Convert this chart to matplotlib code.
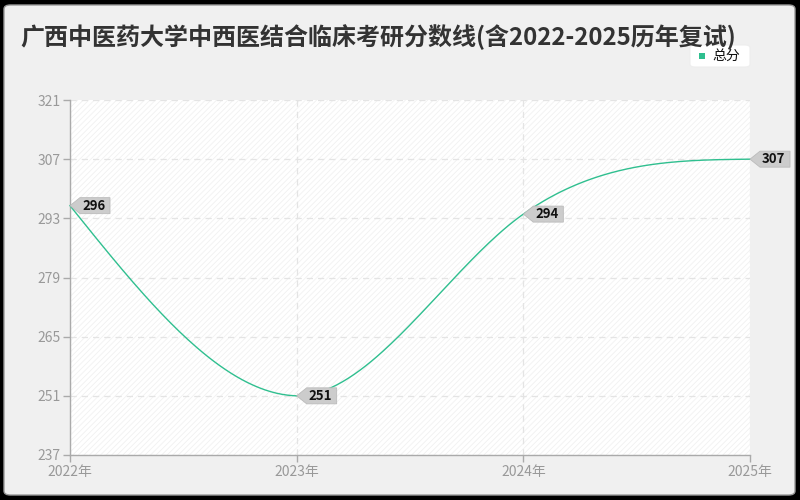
import numpy as np
import matplotlib
matplotlib.use("Agg")
import matplotlib.pyplot as plt
from matplotlib.patches import FancyBboxPatch, Polygon, Rectangle

plt.rcParams["font.family"] = ["Noto Sans CJK SC", "DejaVu Sans"]
plt.rcParams["hatch.linewidth"] = 0.6

title = "广西中医药大学中西医结合临床考研分数线(含2022-2025历年复试)"
years = [2022, 2023, 2024, 2025]
year_labels = ["2022年", "2023年", "2024年", "2025年"]
scores = [296, 251, 294, 307]
y_ticks = [237, 251, 265, 279, 293, 307, 321]
series_name = "总分"
line_color = "#2fbf8f"


def smooth_curve(x, y, tension=1.35, n=80):
    # cubic bezier through the points; control points are kept between
    # each pair of neighbours so the curve never overshoots
    x = np.asarray(x, float)
    y = np.asarray(y, float)
    h = np.diff(x)
    d = np.diff(y) / h
    m = np.zeros_like(y)
    m[1:-1] = tension * (y[2:] - y[:-2]) / (x[2:] - x[:-2])
    for i, j, k in ((0, 0, 1), (-1, -1, -2)):
        s = (3 * d[j] - m[k]) / 2
        m[i] = s if np.sign(s) == np.sign(d[j]) else 0.0
    xs, ys = [x[:1]], [y[:1]]
    t = np.linspace(0, 1, n)[1:]
    for i in range(len(x) - 1):
        lo, hi = sorted((y[i], y[i + 1]))
        c1 = np.clip(y[i] + m[i] * h[i] / 3, lo, hi)
        c2 = np.clip(y[i + 1] - m[i + 1] * h[i] / 3, lo, hi)
        b = [(1 - t) ** 3, 3 * (1 - t) ** 2 * t, 3 * (1 - t) * t ** 2, t ** 3]
        xs.append(b[0] * x[i] + b[1] * (x[i] + h[i] / 3)
                  + b[2] * (x[i + 1] - h[i] / 3) + b[3] * x[i + 1])
        ys.append(b[0] * y[i] + b[1] * c1 + b[2] * c2 + b[3] * y[i + 1])
    return np.concatenate(xs), np.concatenate(ys)


fig = plt.figure(figsize=(8, 5), dpi=100, facecolor="black")
W, H = 800, 500
panel = FancyBboxPatch((4 / W, 5 / H), 791 / W, 490 / H,
                       boxstyle="round,pad=0,rounding_size=0.008",
                       transform=fig.transFigure, facecolor="#f0f0f0",
                       edgecolor="#9a9a9a", linewidth=1.0, zorder=-10)
fig.patches.append(panel)

ax = fig.add_axes([70 / W, 45 / H, 680 / W, 355 / H])
ax.set_zorder(1)
ax.set_facecolor("white")
ax.add_patch(Rectangle((0, 0), 1, 1, transform=ax.transAxes, facecolor="white",
                       edgecolor="#f1f1f1", hatch="//////", linewidth=0, zorder=0))

ax.set_xlim(years[0], years[-1])
ax.set_ylim(y_ticks[0], y_ticks[-1])
ax.set_xticks(years)
ax.set_xticklabels(year_labels)
ax.set_yticks(y_ticks)
ax.grid(True, color="#e4e4e4", linestyle=(0, (5, 4)), linewidth=0.9)
ax.set_axisbelow(True)
for side in ("top", "right"):
    ax.spines[side].set_visible(False)
for side in ("left", "bottom"):
    ax.spines[side].set_color("#aaaaaa")
    ax.spines[side].set_linewidth(1.0)
ax.tick_params(axis="both", colors="#aaaaaa", labelcolor="#999999",
               labelsize=10, length=5, width=1)
ax.tick_params(axis="x", pad=2)
ax.tick_params(axis="y", pad=2)

xs, ys = smooth_curve(years, scores)
ax.plot(xs, ys, color=line_color, linewidth=1.0, zorder=3, clip_on=False)

# value labels: grey tags pointing left at each point
for x, y in zip(years, scores):
    px, py = ax.transData.transform((x, y))
    tag = Polygon([(px, py), (px + 10, py + 8), (px + 40, py + 8),
                   (px + 40, py - 8), (px + 10, py - 8)],
                  closed=True, transform=None, facecolor="#cccccc",
                  edgecolor="#bbbbbb", linewidth=0.6, zorder=5, clip_on=False)
    fig.patches.append(tag)
    fig.text((px + 12) / W, py / H, str(y), ha="left", va="center",
             fontsize=9.5, fontweight="bold", color="#111111", zorder=6)

fig.text(20 / W, 1 - 37 / H, title, ha="left", va="center",
         fontsize=17.3, fontweight="bold", color="#333333")

leg = FancyBboxPatch((690 / W, 1 - 67 / H), 60 / W, 22 / H,
                     boxstyle="round,pad=0,rounding_size=0.006",
                     transform=fig.transFigure, facecolor="white",
                     edgecolor="#eeeeee", linewidth=0.8)
fig.patches.append(leg)
fig.patches.append(Rectangle((699 / W, 1 - 59 / H), 6 / W, 6 / H,
                             transform=fig.transFigure, facecolor=line_color,
                             edgecolor="none"))
fig.text(712 / W, 1 - 56 / H, series_name, ha="left", va="center",
         fontsize=10, color="#111111")

fig.savefig("out.png", dpi=100, facecolor=fig.get_facecolor())
